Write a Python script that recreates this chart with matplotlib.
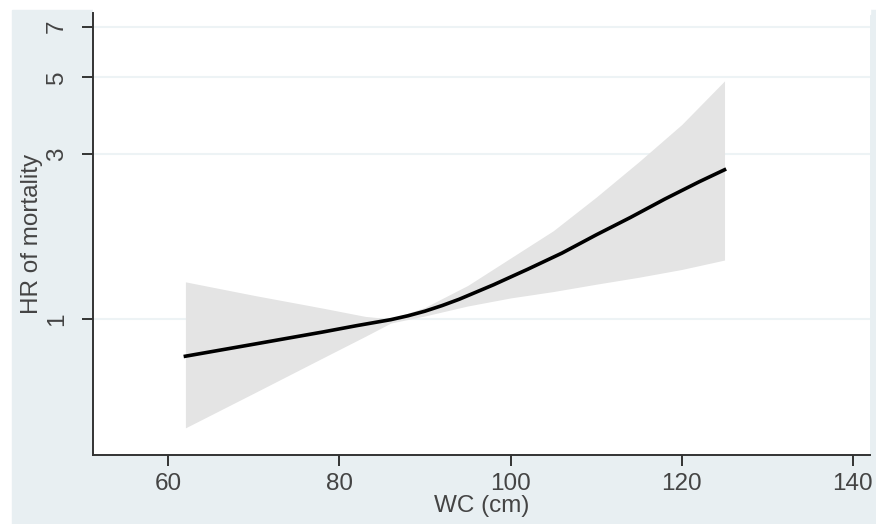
import numpy as np
import matplotlib
matplotlib.use('Agg')
import matplotlib.pyplot as plt
from matplotlib.patches import Rectangle

plt.rcParams['font.family'] = ['Liberation Sans', 'DejaVu Sans']

# estimated hazard ratio curve
wc = [62, 70, 78, 82, 86, 88, 90, 92, 94, 98, 102, 106, 110, 114, 118, 122, 125]
hr = [0.78, 0.845, 0.916, 0.956, 0.995, 1.021, 1.053, 1.093, 1.14, 1.255, 1.392,
      1.55, 1.75, 1.965, 2.22, 2.49, 2.70]

# confidence band
ci_wc = [62, 70, 78, 83, 86, 90, 95, 100, 105, 110, 115, 120, 125]
ci_hi = [1.28, 1.17, 1.075, 1.017, 1.0, 1.08, 1.25, 1.50, 1.80, 2.25,
         2.85, 3.65, 4.88]
ci_lo = [0.484, 0.61, 0.77, 0.89, 0.973, 1.02, 1.09, 1.15, 1.20, 1.26,
         1.32, 1.39, 1.48]

yticks = [1, 3, 5, 7]
xticks = [60, 80, 100, 120, 140]

W, H = 876, 524
fig = plt.figure(figsize=(W / 100, H / 100), dpi=100, facecolor='white')

# outer graph region (light blue) and white plot region above axes
fig.patches.append(Rectangle((12 / W, 0), 1 - 12 / W, 1 - 10 / H,
                             transform=fig.transFigure, color='#e8eff2', zorder=-10))
fig.patches.append(Rectangle((93 / W, 1 - 14 / H), (870 - 93) / W, 14 / H,
                             transform=fig.transFigure, color='white', zorder=-9))

ax = fig.add_axes([93 / W, (H - 455) / H, (870 - 93) / W, (455 - 13) / H])
ax.set_facecolor('white')

ax.set_yscale('log')
ax.set_xlim(51.2, 142)
ax.set_ylim(0.404, 7.67)

for t in yticks:
    ax.axhline(t, color='#edf3f5', lw=1.5, zorder=1)

ax.fill_between(ci_wc, ci_lo, ci_hi, color='#e4e4e4', lw=0, zorder=2)
ax.plot(wc, hr, color='black', lw=2.6, zorder=3)

ax.set_yticks(yticks)
ax.set_yticklabels([str(t) for t in yticks], rotation=90, va='center')
ax.yaxis.set_minor_locator(matplotlib.ticker.NullLocator())
ax.set_xticks(xticks)

ax.spines['top'].set_visible(False)
ax.spines['right'].set_visible(False)
for s in ['left', 'bottom']:
    ax.spines[s].set_color('#333333')
    ax.spines[s].set_linewidth(1.4)

ax.tick_params(axis='both', colors='#333333', labelcolor='#444444',
               labelsize=17.5, length=8, width=1.4)
ax.tick_params(axis='y', pad=10)
ax.tick_params(axis='x', pad=5)

ax.set_xlabel('WC (cm)', fontsize=17.5, color='#444444', labelpad=0)
ax.set_ylabel('HR of mortality', fontsize=17.5, color='#444444', labelpad=2)

fig.savefig('out.png', dpi=100, facecolor=fig.get_facecolor())
